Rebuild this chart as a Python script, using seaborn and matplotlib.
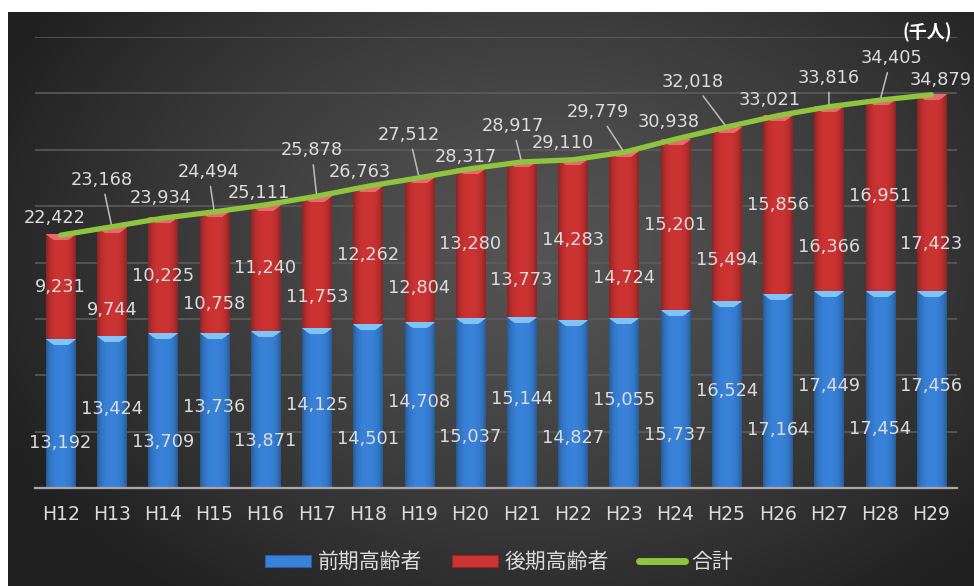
import numpy as np
import matplotlib
matplotlib.use("Agg")
import matplotlib.pyplot as plt
from matplotlib.patches import Patch
from matplotlib.lines import Line2D
import seaborn as sns

plt.rcParams["font.family"] = ["DejaVu Sans", "Noto Sans CJK JP"]

# ---- data (thousand persons) ----
years = ["H12", "H13", "H14", "H15", "H16", "H17", "H18", "H19", "H20",
         "H21", "H22", "H23", "H24", "H25", "H26", "H27", "H28", "H29"]
early = [13192, 13424, 13709, 13736, 13871, 14125, 14501, 14708, 15037,
         15144, 14827, 15055, 15737, 16524, 17164, 17449, 17454, 17456]
late = [9231, 9744, 10225, 10758, 11240, 11753, 12262, 12804, 13280,
        13773, 14283, 14724, 15201, 15494, 15856, 16366, 16951, 17423]
total = [22422, 23168, 23934, 24494, 25111, 25878, 26763, 27512, 28317,
         28917, 29110, 29779, 30938, 32018, 33021, 33816, 34405, 34879]

series_names = ["前期高齢者", "後期高齢者", "合計"]

# offsets (pixels) of the total labels from the line vertex; some use a leader
total_label_offsets = [(-6, 17), (-10, 47), (-2, 20), (-6, 40), (-7, 12), (-5, 46),
                       (-8, 14), (-10, 43), (-5, 12), (-9, 36), (-10, 17), (-26, 40),
                       (-7, 17), (-34, 45), (-8, 16), (0, 29), (11, 42), (9, 15)]
leader = [False, True, False, True, False, True, False, True, False, True,
          False, True, False, True, False, True, True, False]

BLUE = (0.22, 0.51, 0.85)
BLUE_LIGHT = (0.50, 0.77, 0.97)
RED = (0.80, 0.20, 0.20)
RED_LIGHT = (0.91, 0.42, 0.42)
GREEN = "#8fc43f"
TXT = "#dcdcdc"

W, H = 974, 586
fig = plt.figure(figsize=(W / 100, H / 100), dpi=100)
fig.patch.set_facecolor("white")

# dark radial-gradient backdrop
bg = fig.add_axes([8 / W, 0, (W - 8) / W, (H - 12) / H], zorder=-10)
ny, nx = 300, 500
yy, xx = np.mgrid[0:1:ny * 1j, 0:1:nx * 1j]
r = np.sqrt(((xx - 0.55) / 0.62) ** 2 + ((yy - 0.42) / 0.75) ** 2)
v = 84 - (84 - 32) * np.clip(r, 0, 1) ** 1.3
img = np.dstack([v, v, v]) / 255.0
bg.imshow(img, extent=(0, 1, 0, 1), aspect="auto", interpolation="bilinear")
bg.set_axis_off()

ax = fig.add_axes([35 / W, 1 - 488 / H, 922 / W, 451 / H])
ax.set_facecolor("none")

stack_top = [e + l for e, l in zip(early, late)]
sns.barplot(x=years, y=stack_top, color=RED, width=0.57, saturation=1,
            errorbar=None, ax=ax, zorder=2)
sns.barplot(x=years, y=early, color=BLUE, width=0.57, saturation=1,
            errorbar=None, ax=ax, zorder=2)

ax.set_xlim(-0.5, len(years) - 0.5)
ax.set_ylim(0, 40000)
px_per_unit = 451 / 40000.0
px_per_cat = 922 / len(years)


def shaded_bar(base, light, wpx, hpx):
    cols = max(int(wpx * 2), 4)
    rows = max(int(round(hpx)), 2)
    u = np.linspace(-1, 1, cols)
    prof = 1 - 0.30 * np.abs(u) ** 3
    im = np.ones((rows, cols, 3)) * np.array(base)[None, None, :] * prof[None, :, None]
    hb = 6.0
    d = np.arange(rows)[:, None]
    mask = (d < hb) & (np.abs(u)[None, :] < 1 - 0.55 * d / hb)
    im[mask] = np.array(light)
    return np.clip(im, 0, 1)


patches = list(ax.patches)
n = len(years)
for i, p in enumerate(patches):
    x0 = p.get_x()
    w = p.get_width()
    k = i % n
    if i < n:
        y0, y1, base, light = early[k], early[k] + late[k], RED, RED_LIGHT
    else:
        y0, y1, base, light = 0, early[k], BLUE, BLUE_LIGHT
    im = shaded_bar(base, light, w * px_per_cat, (y1 - y0) * px_per_unit)
    ax.imshow(im, extent=(x0, x0 + w, y0, y1), aspect="auto", origin="upper",
              interpolation="bilinear", zorder=3)
    p.set_alpha(0)

ax.set_xlim(-0.5, len(years) - 0.5)
ax.set_ylim(0, 40000)

# total line
idx = np.arange(len(years))
sns.lineplot(x=idx, y=total, color=GREEN, lw=3.8, ax=ax, zorder=5,
             solid_capstyle="round")
ax.set_xlim(-0.5, len(years) - 0.5)
ax.set_ylim(0, 40000)

# grid and axes
ax.set_yticks(np.arange(0, 40001, 5000))
ax.set_yticklabels([])
ax.yaxis.grid(True, color="#5e5e5e", lw=1.1)
ax.set_axisbelow(True)
ax.tick_params(axis="y", length=0)
ax.tick_params(axis="x", length=0, pad=12, labelsize=13.5, labelcolor=TXT)
for s in ["top", "right", "left"]:
    ax.spines[s].set_visible(False)
ax.spines["bottom"].set_color("#a8a8a8")
ax.spines["bottom"].set_linewidth(1.6)
ax.spines["bottom"].set_zorder(6)
ax.set_xlabel("")
ax.set_ylabel("")

lab_kw = dict(ha="center", va="center", fontsize=12.8, color=TXT, zorder=7)

# segment labels
for i in range(n):
    fb = 0.30 if i % 2 == 0 else 0.52
    ax.text(i, early[i] * fb, f"{early[i]:,}", **lab_kw)
    fr = 0.50 if i % 2 == 0 else 0.24
    ax.text(i, early[i] + late[i] * fr, f"{late[i]:,}", **lab_kw)

# total labels
for i in range(n):
    dx, dy = total_label_offsets[i]
    kw = dict(textcoords="offset pixels", xytext=(dx, dy), ha="center", va="center",
              fontsize=12.8, color=TXT, zorder=8, annotation_clip=False)
    if leader[i]:
        kw["arrowprops"] = dict(arrowstyle="-", color="#bdbdbd", lw=1.1,
                                shrinkA=2, shrinkB=2)
    ax.annotate(f"{total[i]:,}", xy=(i, total[i]), **kw)

# unit label
fig.text(927 / W, 1 - 32 / H, "(千人)", ha="center", va="center", fontsize=13,
         fontweight="bold", color="white", family=["Noto Sans CJK JP", "DejaVu Sans"])

# legend
handles = [Patch(facecolor=BLUE, edgecolor="#2a5fa8", lw=0.8),
           Patch(facecolor=RED, edgecolor="#9c2424", lw=0.8),
           Line2D([0], [0], color=GREEN, lw=5, solid_capstyle="round")]
leg = fig.legend(handles, series_names, loc="center", ncol=3,
                 bbox_to_anchor=(499 / W, 1 - 562 / H), frameon=False,
                 handlelength=2.2, handleheight=0.5, handletextpad=0.3,
                 columnspacing=1.45, prop={"family": ["Noto Sans CJK JP"], "size": 15})
for t in leg.get_texts():
    t.set_color(TXT)

fig.savefig("out.png", dpi=100, facecolor=fig.get_facecolor())
